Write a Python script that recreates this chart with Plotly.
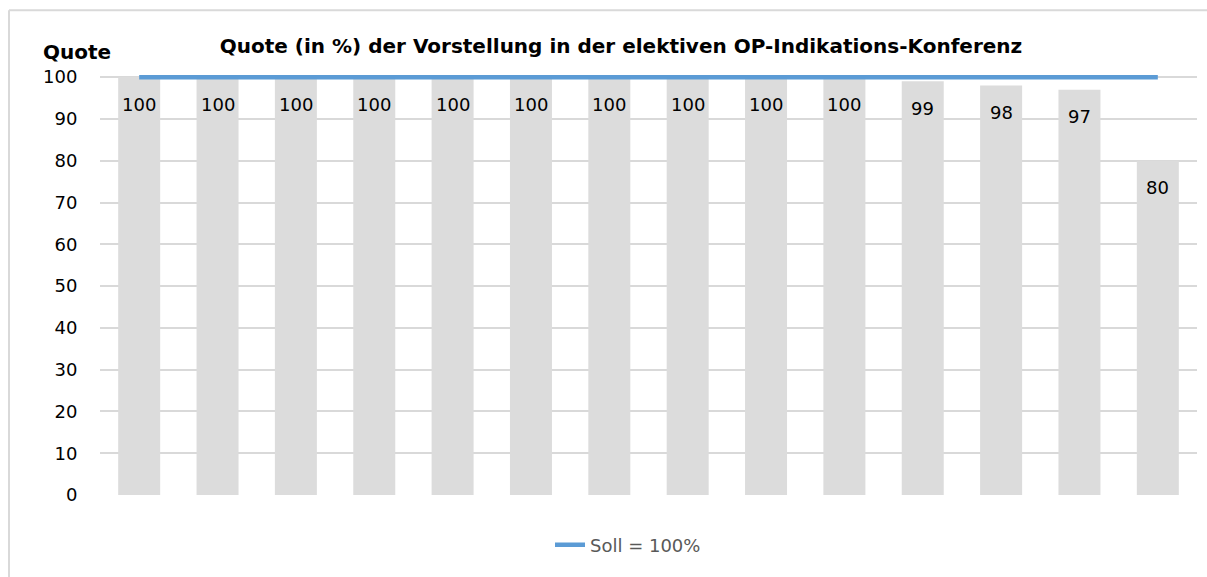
import plotly.graph_objects as go

# Data
categories = list(range(1, 15))
quote_values = [100, 100, 100, 100, 100, 100, 100, 100, 100, 100, 99, 98, 97, 80]
soll_values = [100] * 14
y_ticks = [0, 10, 20, 30, 40, 50, 60, 70, 80, 90, 100]

FONT = "DejaVu Sans"
W, H = 1207, 577
Y_TOP = 101  # a little headroom so the Soll line is not clipped at 100
L, R, B = 100, 10, 82
unit = (495 - 77) / 100.0
T = (H - B) - Y_TOP * unit
plot_w = W - L - R
plot_h = H - T - B


def px_x(px):
    return (px - L) / plot_w


def px_y(py):
    return (H - B - py) / plot_h


fig = go.Figure()

fig.add_trace(go.Bar(
    x=categories, y=quote_values,
    marker=dict(color="#dcdcdc", line=dict(width=0)),
    showlegend=False, hoverinfo="skip",
))

fig.add_trace(go.Scatter(
    x=categories, y=soll_values, mode="lines",
    line=dict(color="#5b9bd5", width=4.5),
    name="Soll = 100%",
))

# value labels placed just below each bar top
for c, v in zip(categories, quote_values):
    fig.add_annotation(
        x=c, y=v, xref="x", yref="y", text=str(v), showarrow=False,
        yshift=-27, font=dict(family=FONT, size=18, color="#000000"),
    )

# y-axis caption above the tick labels
fig.add_annotation(
    x=px_x(77), y=px_y(52), xref="paper", yref="paper", text="<b>Quote</b>",
    showarrow=False, xanchor="center", yanchor="middle",
    font=dict(family=FONT, size=20, color="#000000"),
)

# chart border (left and top edges)
fig.add_shape(type="line", xref="paper", yref="paper",
              x0=px_x(9), x1=px_x(1210), y0=px_y(10), y1=px_y(10),
              line=dict(color="#d9d9d9", width=2))
fig.add_shape(type="line", xref="paper", yref="paper",
              x0=px_x(9), x1=px_x(9), y0=px_y(10), y1=px_y(580),
              line=dict(color="#d9d9d9", width=2))

fig.update_layout(
    width=W, height=H,
    margin=dict(l=L, r=R, t=T, b=B),
    paper_bgcolor="white", plot_bgcolor="white",
    bargap=0.464,
    title=dict(
        text="<b>Quote (in %) der Vorstellung in der elektiven OP-Indikations-Konferenz</b>",
        x=621 / W, xanchor="center", xref="container",
        y=1 - 46 / H, yanchor="middle", yref="container",
        font=dict(family=FONT, size=20, color="#000000"),
    ),
    xaxis=dict(
        range=[0.5, 14.5], showticklabels=False, showgrid=False,
        zeroline=False, showline=False, ticks="",
    ),
    yaxis=dict(
        range=[0, Y_TOP], tickvals=y_ticks, showgrid=True,
        gridcolor="#d9d9d9", gridwidth=1.5, zeroline=False,
        showline=False, ticks="outside", ticklen=18,
        tickcolor="rgba(0,0,0,0)",
        tickfont=dict(family=FONT, size=18, color="#000000"),
    ),
    showlegend=True,
    legend=dict(
        orientation="h", x=px_x(628), xanchor="center",
        y=px_y(545), yanchor="middle",
        font=dict(family=FONT, size=18, color="#595959"),
        bgcolor="rgba(0,0,0,0)",
    ),
)

fig.write_html("out.html")
